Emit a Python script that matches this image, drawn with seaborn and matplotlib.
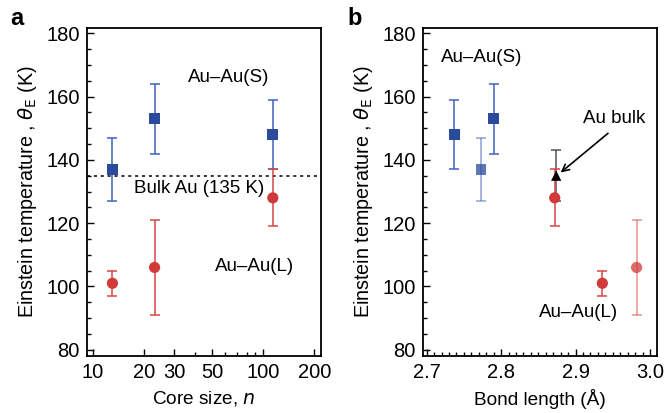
"""Einstein temperature of Au-Au bonds vs core size and bond length."""
import numpy as np
import pandas as pd
import matplotlib
matplotlib.use("Agg")
import matplotlib.pyplot as plt
from matplotlib.ticker import MultipleLocator, FixedLocator, NullFormatter
import seaborn as sns

# data
core_size = [13, 23, 114]
theta_short = [137, 153, 148]          # Au-Au(S)
err_short = [10, 11, 11]
theta_long = [101, 106, 128]           # Au-Au(L)
err_long = [4, 15, 9]
bond_short = [2.773, 2.790, 2.737]
bond_long = [2.936, 2.982, 2.872]
faded_short = [True, False, False]
faded_long = [False, True, False]
bulk_bond = 2.874
bulk_theta = 135
bulk_err = 8

BLUE = "#2a4a9c"
BLUE_BAR = "#3f63bd"
RED = "#d13a3a"
RED_BAR = "#d94545"
FS = 13.5


def _style_axis(ax):
    ax.set_ylim(78, 181.6)
    ax.yaxis.set_major_locator(MultipleLocator(20))
    ax.yaxis.set_minor_locator(MultipleLocator(5))
    ax.tick_params(axis="both", which="both", direction="in", top=False, right=False,
                   color="black", labelcolor="black")
    ax.tick_params(which="major", length=5, width=1)
    ax.tick_params(which="minor", length=3, width=1)
    ax.tick_params(axis="both", labelsize=14.5, pad=5)
    for spine in ax.spines.values():
        spine.set_linewidth(1.3)
        spine.set_color("black")
        spine.set_visible(True)
    ax.set_ylabel(r"Einstein temperature , $\theta_{\rm E}$ (K)", fontsize=14.2, labelpad=5,
                  color="black")


def _errors(ax, x, y, err, faded, bar_color):
    for xi, yi, ei, f in zip(x, y, err, faded):
        ax.errorbar(xi, yi, yerr=ei, fmt="none", ecolor=bar_color, elinewidth=1.1,
                    capsize=3.5, capthick=1.1, alpha=0.6 if f else 1.0, zorder=2)


def _markers(ax, x, y, faded, color, marker, size):
    df = pd.DataFrame({"x": x, "y": y, "faded": faded})
    for f, sub in df.groupby("faded"):
        sns.scatterplot(data=sub, x="x", y="y", ax=ax, color=color, marker=marker,
                        s=size, edgecolor="none", alpha=0.75 if f else 1.0, zorder=3,
                        legend=False)


sns.set_style("ticks")
plt.rcParams["font.family"] = ["Liberation Sans", "DejaVu Sans"]
plt.rcParams["mathtext.fontset"] = "dejavusans"
plt.rcParams["text.color"] = "black"

fig = plt.figure(figsize=(6.65, 4.13), dpi=100)
ax1 = fig.add_axes([0.1304, 0.138, 0.3519, 0.7935])
ax2 = fig.add_axes([0.6356, 0.138, 0.3519, 0.7935])

# panel a
_errors(ax1, core_size, theta_short, err_short, [False] * 3, BLUE_BAR)
_errors(ax1, core_size, theta_long, err_long, [False] * 3, RED_BAR)
_markers(ax1, core_size, theta_short, [False] * 3, BLUE, "s", 60)
_markers(ax1, core_size, theta_long, [False] * 3, RED, "o", 65)
ax1.axhline(bulk_theta, color="black", linestyle=(0, (2, 2.5)), linewidth=1.1, zorder=1)
ax1.set_xscale("log")
ax1.set_xlim(9.18, 218)
ax1.xaxis.set_major_locator(FixedLocator([10, 20, 30, 50, 100, 200]))
ax1.xaxis.set_major_formatter(matplotlib.ticker.FixedFormatter(["10", "20", "30", "50", "100", "200"]))
ax1.xaxis.set_minor_locator(FixedLocator([40, 60, 70, 80, 90]))
ax1.xaxis.set_minor_formatter(NullFormatter())
_style_axis(ax1)
ax1.set_xlabel("Core size, $n$", fontsize=13.7, labelpad=5, color="black")
ax1.text(63, 166, "Au–Au(S)", fontsize=FS, ha="center", va="center")
ax1.text(42, 131, "Bulk Au (135 K)", fontsize=FS, ha="center", va="center")
ax1.text(89, 106.3, "Au–Au(L)", fontsize=FS, ha="center", va="center")

# panel b
ax2.errorbar(bulk_bond, bulk_theta, yerr=bulk_err, fmt="none", ecolor="#555555",
             elinewidth=1.1, capsize=3.5, capthick=1.1, zorder=2)
_errors(ax2, bond_short, theta_short, err_short, faded_short, BLUE_BAR)
_errors(ax2, bond_long, theta_long, err_long, faded_long, RED_BAR)
_markers(ax2, bond_short, theta_short, faded_short, BLUE, "s", 60)
_markers(ax2, bond_long, theta_long, faded_long, RED, "o", 65)
sns.scatterplot(x=[bulk_bond], y=[bulk_theta], ax=ax2, color="black", marker="^",
                s=55, edgecolor="none", zorder=4, legend=False)
ax2.set_xlim(2.6946, 3.009)
ax2.xaxis.set_major_locator(MultipleLocator(0.1))
ax2.xaxis.set_minor_locator(MultipleLocator(0.01))
ax2.xaxis.set_major_formatter(matplotlib.ticker.FormatStrFormatter("%.1f"))
_style_axis(ax2)
ax2.set_xlabel("Bond length (Å)", fontsize=13.7, labelpad=5, color="black")
ax2.text(2.774, 172.4, "Au–Au(S)", fontsize=FS, ha="center", va="center")
ax2.text(2.9525, 153.2, "Au bulk", fontsize=FS, ha="center", va="center")
ax2.text(2.9046, 91.6, "Au–Au(L)", fontsize=FS, ha="center", va="center")
ax2.annotate("", xy=(2.880, 136.0), xytext=(2.9436, 148.4),
             arrowprops=dict(arrowstyle="->,head_length=0.5,head_width=0.25",
                             color="black", lw=1.2, shrinkA=0, shrinkB=0))

fig.text(0.015, 0.955, "a", fontsize=17, fontweight="bold", va="center")
fig.text(0.523, 0.955, "b", fontsize=17, fontweight="bold", va="center")

fig.savefig("out.png", dpi=100)
